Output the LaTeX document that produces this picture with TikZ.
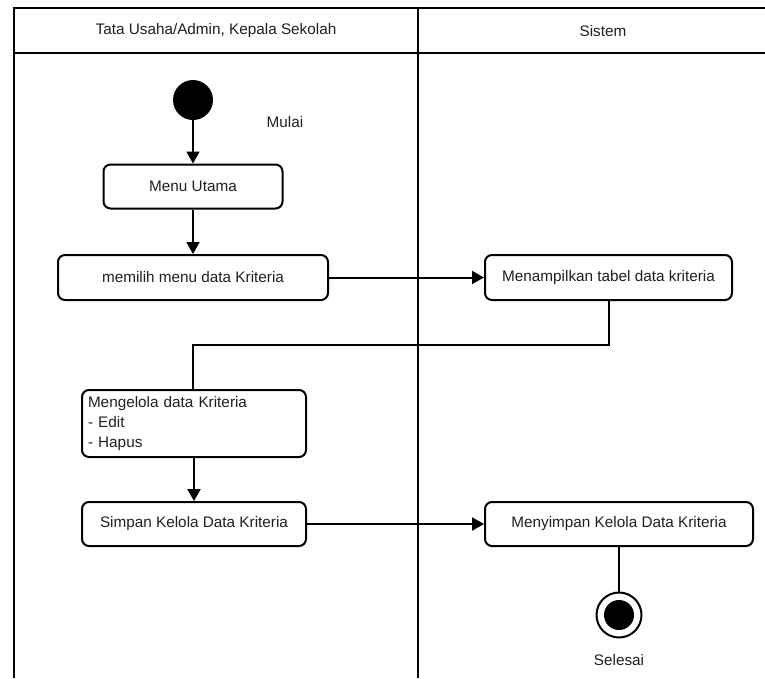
\documentclass[tikz,border=0pt]{standalone}
\usepackage{fontspec}
\setmainfont{Liberation Sans}
\usetikzlibrary{arrows.meta}
\begin{document}
\begin{tikzpicture}[x=1pt,y=-1pt,
  txt/.style={font=\fontsize{15.3}{20}\selectfont, text=black!88},
  act/.style={txt, draw, line width=2pt, rounded corners=7pt, inner sep=0pt, minimum height=44pt},
  flow/.style={line width=2pt, -{Triangle[length=12pt,width=13pt]}},
  link/.style={line width=2pt},
  lane/.style={line width=2.2pt}]
\useasboundingbox (0,0) rectangle (765,678);

% swimlane frame
\draw[lane] (765,8) -- (14,8) -- (14,678);
\draw[lane] (14,53) -- (765,53);
\draw[lane] (418,8) -- (418,678);
\node[txt] (laneA) at (216,31) {Tata Usaha/Admin, Kepala Sekolah};
\node[txt] (laneB) at (603,31) {Sistem};

% start
\node[circle, fill=black, minimum size=40pt, inner sep=0pt] (start) at (193,100) {};
\node[txt] (mulai) at (285,122) {Mulai};

% activities
\node[act, minimum width=179pt] (menu) at (193,186.5) {Menu Utama};
\node[act, minimum width=270pt, minimum height=45pt] (pilih) at (193,277.5) {memilih menu data Kriteria};
\node[act, minimum width=247pt, minimum height=45pt] (tampil) at (608.5,277.5) {Menampilkan tabel data kriteria};
\node[act, minimum width=224pt, minimum height=67pt, text width=212pt, align=left] (kelola) at (194,423.5)
  {Mengelola data Kriteria\\- Edit\\- Hapus};
\node[act, minimum width=224pt] (simpan) at (194,524) {Simpan Kelola Data Kriteria};
\node[act, minimum width=268pt] (menyimpan) at (619,524) {Menyimpan Kelola Data Kriteria};

% end
\node[circle, draw, line width=2pt, minimum size=45pt, inner sep=0pt] (end) at (619,615) {};
\node[circle, fill=black, minimum size=30pt, inner sep=0pt] (endcore) at (end.center) {};
\node[txt] (selesai) at (619,660) {Selesai};

% flows
\draw[flow] (start.south) -- (menu.north);
\draw[flow] (menu.south) -- (pilih.north);
\draw[flow] (pilih.east) -- (tampil.west);
\draw[link] (tampil.south) |- (193,345) -- (kelola.north -| 193,0);
\draw[flow] (kelola.south) -- (simpan.north);
\draw[flow] (simpan.east) -- (menyimpan.west);
\draw[link] (menyimpan.south) -- (end.north);
\end{tikzpicture}
\end{document}
